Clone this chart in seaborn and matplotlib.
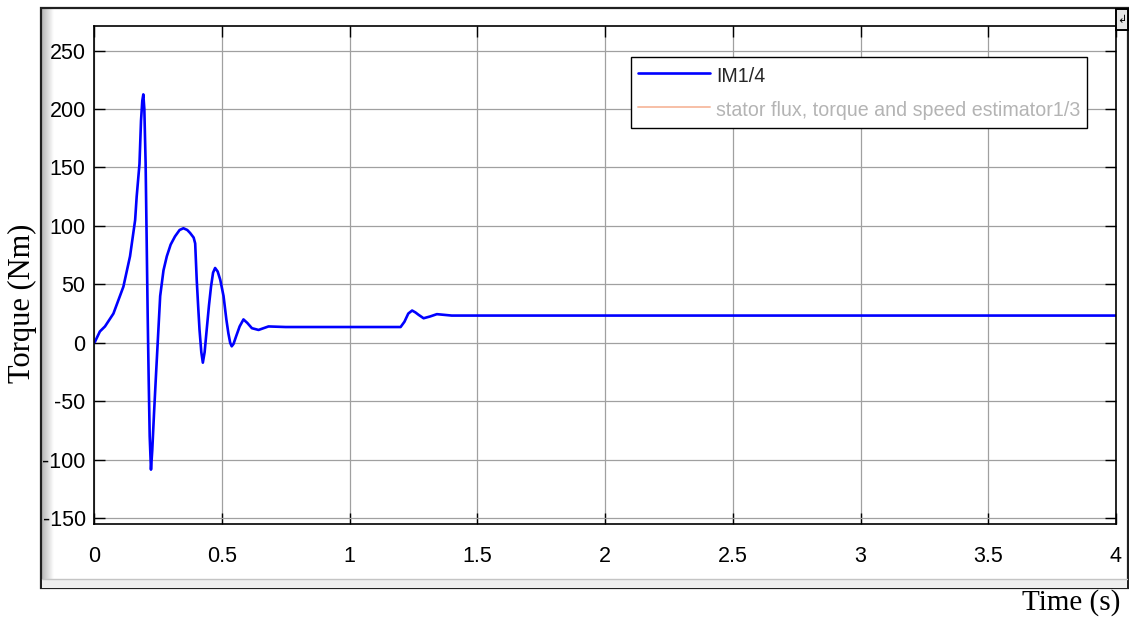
import numpy as np
import pandas as pd
import matplotlib
matplotlib.use("Agg")
import matplotlib.pyplot as plt
from matplotlib.patches import Rectangle
from matplotlib.lines import Line2D
import seaborn as sns

# Electromagnetic torque of the induction machine during start-up and load step
time_s = [0.0, 0.004, 0.023, 0.043, 0.076, 0.115, 0.141, 0.161, 0.167, 0.178,
          0.184, 0.189, 0.193, 0.197, 0.202, 0.206, 0.210, 0.214, 0.218, 0.223,
          0.228, 0.235, 0.243, 0.259, 0.272, 0.285, 0.300, 0.317, 0.335, 0.350,
          0.365, 0.376, 0.390, 0.396, 0.402, 0.408, 0.413, 0.420, 0.426, 0.433,
          0.441, 0.450, 0.458, 0.466, 0.474, 0.484, 0.494, 0.507, 0.518, 0.526,
          0.533, 0.539, 0.546, 0.556, 0.570, 0.585, 0.600, 0.618, 0.644, 0.683,
          0.750, 0.900, 1.050, 1.200, 1.215, 1.230, 1.245, 1.258, 1.270, 1.290,
          1.315, 1.342, 1.400, 2.000, 3.000, 4.000]
torque_nm = [0.0, 1.0, 9.7, 14.0, 25.0, 48.0, 74.0, 105.0, 125.0, 153.0,
             190.0, 207.0, 212.5, 200.0, 154.0, 90.0, 25.0, -31.0, -80.0, -108.5,
             -92.0, -60.0, -26.0, 40.0, 62.0, 74.0, 84.0, 91.0, 96.5, 98.0,
             96.5, 94.0, 90.0, 85.0, 54.0, 30.0, 11.0, -8.0, -17.0, -8.0,
             11.0, 32.0, 48.0, 60.0, 64.0, 61.0, 54.0, 40.0, 20.0, 8.0,
             0.0, -3.0, -1.0, 5.4, 14.0, 20.0, 17.0, 12.5, 11.0, 14.0,
             13.5, 13.5, 13.5, 13.5, 18.0, 25.0, 27.6, 26.0, 24.0, 21.0,
             22.5, 24.5, 23.3, 23.3, 23.3, 23.3]

x_ticks = [0, 0.5, 1, 1.5, 2, 2.5, 3, 3.5, 4]
x_tick_labels = ["0", "0.5", "1", "1.5", "2", "2.5", "3", "3.5", "4"]
y_ticks = [-150, -100, -50, 0, 50, 100, 150, 200, 250]
y_tick_labels = ["-150", "-100", "-50", "0", "50", "100", "150", "200", "250"]
series_labels = ["IM1/4", "stator flux, torque and speed estimator1/3"]

W, H = 1129, 621
sns.set_theme(style="white")
plt.rcParams["font.family"] = ["Liberation Sans", "DejaVu Sans"]

fig = plt.figure(figsize=(W / 100, H / 100), dpi=100)
fig.patch.set_facecolor("white")


def fx(px):
    return px / W


def fy(py):
    return 1 - py / H


# scope window frame
fig.patches.append(Rectangle((fx(41), fy(588)), fx(1128) - fx(41), fy(8) - fy(588),
                             transform=fig.transFigure, fill=False,
                             edgecolor="#202020", linewidth=1.6, zorder=0))
# bottom status strip
fig.patches.append(Rectangle((fx(42), fy(588)), fx(1127) - fx(42), fy(579) - fy(588),
                             transform=fig.transFigure, facecolor="#eeeeee",
                             edgecolor="none", zorder=0))
fig.add_artist(Line2D([fx(42), fx(1127)], [fy(579), fy(579)],
                      transform=fig.transFigure, color="#c4c4c4", lw=1.0))
# left shaded edge of the window
grad_ax = fig.add_axes([fx(42), fy(587), fx(54) - fx(42), fy(9) - fy(587)])
grad = np.linspace(0.72, 1.0, 64)[None, :]
grad_ax.imshow(grad, cmap="gray", vmin=0, vmax=1, aspect="auto",
               extent=[0, 1, 0, 1])
grad_ax.set_axis_off()
# dock icon in the corner
fig.patches.append(Rectangle((fx(1116), fy(30)), fx(1128) - fx(1116), fy(9) - fy(30),
                             transform=fig.transFigure, facecolor="#e6e6e6",
                             edgecolor="black", linewidth=1.4, zorder=3))
fig.text(fx(1122), fy(20), "\u21b2", ha="center", va="center", fontsize=8,
         color="black", family=["DejaVu Sans"])

ax = fig.add_axes([fx(94), fy(524), fx(1116) - fx(94), fy(26) - fy(524)])
ax.set_facecolor("white")

df = pd.DataFrame({"t": time_s, "T": torque_nm})
sns.lineplot(data=df, x="t", y="T", ax=ax, color="#0000ff", linewidth=1.9,
             label=series_labels[0], sort=True, estimator=None)
ax.plot([], [], color="#f7bfa6", linewidth=1.4, label=series_labels[1])

ax.set_xlim(0, 4)
ax.set_ylim(-155, 271)
ax.set_xticks(x_ticks)
ax.set_xticklabels(x_tick_labels)
ax.set_yticks(y_ticks)
ax.set_yticklabels(y_tick_labels)
ax.grid(True, color="#a0a0a0", linewidth=0.9)
ax.set_axisbelow(True)
ax.tick_params(axis="both", which="major", direction="in", length=8, width=1.0,
               colors="black", labelsize=15.5, top=True, right=True,
               bottom=True, left=True)
ax.tick_params(axis="x", pad=16)
ax.tick_params(axis="y", pad=6)
for s in ax.spines.values():
    s.set_visible(True)
    s.set_color("black")
    s.set_linewidth(1.2)
ax.set_xlabel("")
ax.set_ylabel("")

leg = ax.legend(loc="upper right", bbox_to_anchor=(0.9716, 0.938),
                borderaxespad=0, frameon=True, fancybox=False, fontsize=14.1,
                handlelength=3.7, handletextpad=0.3, labelspacing=0.48,
                handleheight=1.52, borderpad=0.35)
leg.get_frame().set_edgecolor("black")
leg.get_frame().set_linewidth(1.0)
leg.get_frame().set_alpha(1)
leg.get_texts()[1].set_color("#b4b4b4")

fig.text(fx(22), fy(303), "Torque (Nm)", rotation=90, ha="center", va="center",
         fontsize=22, family=["Liberation Serif", "DejaVu Serif"], color="black")
fig.text(fx(1120), fy(603), "Time (s)", ha="right", va="center",
         fontsize=21, family=["Liberation Serif", "DejaVu Serif"], color="black")

fig.savefig("out.png", dpi=100)
